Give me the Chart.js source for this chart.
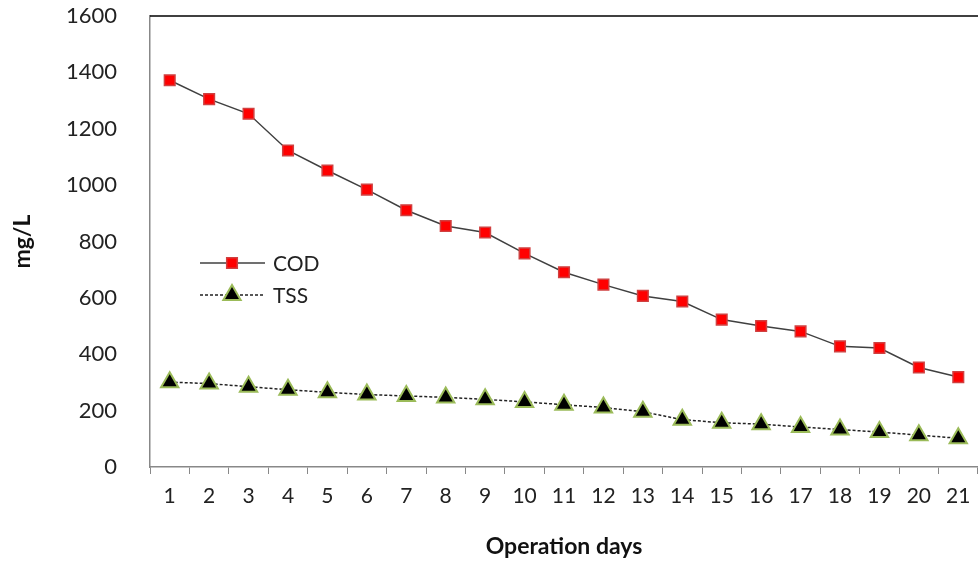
<!DOCTYPE html>
<html>
<head>
    <title>COD / TSS</title>
    <script src="https://cdn.jsdelivr.net/npm/chart.js"></script>
    <style>
        html, body { margin: 0; padding: 0; background: #fff; overflow: hidden; }
        #wrap { width: 978px; height: 562px; position: relative; }
        #myChart { display: block; }
    </style>
</head>
<body>
    <div id="wrap"><canvas id="myChart"></canvas></div>
    <script>
        // datos
        const days = ['1','2','3','4','5','6','7','8','9','10','11','12','13','14','15','16','17','18','19','20','21'];
        const codValues = [1372, 1305, 1253, 1123, 1052, 984, 911, 855, 832, 758, 691, 647, 607, 587, 523, 500, 481, 428, 422, 353, 319];
        const tssValues = [301, 296, 285, 274, 265, 257, 252, 247, 240, 231, 221, 211, 196, 168, 157, 152, 142, 133, 124, 113, 102];
        const yTicks = [0, 200, 400, 600, 800, 1000, 1200, 1400, 1600];

        const FONT = 'Lato, "DejaVu Sans", sans-serif';

        // leyenda dentro del área y borde superior
        const extras = {
            id: 'extras',
            afterDraw(chart) {
                const ctx = chart.ctx;
                const area = chart.chartArea;
                ctx.save();
                ctx.strokeStyle = '#000';
                ctx.lineWidth = 1.5;
                ctx.beginPath();
                ctx.moveTo(area.left, area.top);
                ctx.lineTo(area.right, area.top);
                ctx.stroke();

                const rows = [263, 295];
                chart.data.datasets.forEach((ds, i) => {
                    const y = rows[i];
                    ctx.strokeStyle = ds.borderColor;
                    ctx.lineWidth = ds.borderWidth;
                    ctx.setLineDash(ds.borderDash || []);
                    ctx.beginPath();
                    ctx.moveTo(200, y);
                    ctx.lineTo(265, y);
                    ctx.stroke();
                    ctx.setLineDash([]);
                    ctx.fillStyle = ds.pointBackgroundColor;
                    ctx.strokeStyle = ds.pointBorderColor;
                    ctx.lineWidth = ds.pointBorderWidth;
                    Chart.helpers.drawPoint(ctx, {pointStyle: ds.pointStyle, radius: ds.pointRadius, borderWidth: ds.pointBorderWidth}, 232, y);
                    ctx.fillStyle = '#222';
                    ctx.font = '21px ' + FONT;
                    ctx.textBaseline = 'middle';
                    ctx.fillText(ds.label, 273, y + 1);
                });
                ctx.restore();
            }
        };

        const ctx = document.getElementById('myChart').getContext('2d');
        const myChart = new Chart(ctx, {
            type: 'line',
            data: {
                labels: days,
                datasets: [{
                    label: 'COD',
                    data: codValues,
                    borderColor: '#404040',
                    borderWidth: 1.5,
                    pointStyle: 'rect',
                    pointRadius: 7.5,
                    pointBackgroundColor: '#ff0000',
                    pointBorderColor: '#d04040',
                    pointBorderWidth: 1.5,
                    tension: 0
                }, {
                    label: 'TSS',
                    data: tssValues,
                    borderColor: '#222',
                    borderWidth: 1.5,
                    borderDash: [3, 2],
                    pointStyle: 'triangle',
                    pointRadius: 10,
                    pointBackgroundColor: '#000000',
                    pointBorderColor: '#9bbb59',
                    pointBorderWidth: 2,
                    tension: 0
                }]
            },
            options: {
                responsive: true,
                maintainAspectRatio: false,
                animation: false,
                layout: { autoPadding: false, padding: { top: 16, right: 0, left: 0, bottom: 0 } },
                plugins: {
                    legend: { display: false },
                    tooltip: { enabled: false }
                },
                scales: {
                    x: {
                        offset: true,
                        grid: {
                            offset: true,
                            drawOnChartArea: false,
                            drawTicks: true,
                            tickLength: 7,
                            color: '#888'
                        },
                        border: { color: '#888', width: 1.5 },
                        ticks: {
                            color: '#222',
                            font: { family: FONT, size: 21 },
                            padding: 10,
                            maxRotation: 0,
                            autoSkip: false
                        },
                        title: {
                            display: true,
                            text: 'Operation days',
                            color: '#111',
                            font: { family: FONT, size: 23, weight: 'bold' },
                            padding: { top: 0, bottom: 2 }
                        },
                        afterFit(scale) {
                            scale.height = 95;
                            scale.paddingLeft = 0;
                            scale.paddingRight = 0;
                        }
                    },
                    y: {
                        min: 0,
                        max: 1600,
                        afterBuildTicks(scale) { scale.ticks = yTicks.map(v => ({ value: v })); },
                        grid: { display: false },
                        border: { color: '#888', width: 1.5 },
                        ticks: {
                            color: '#222',
                            font: { family: FONT, size: 22 },
                            padding: 25,
                            callback: v => String(v)
                        },
                        title: {
                            display: true,
                            text: 'mg/L',
                            color: '#111',
                            font: { family: FONT, size: 23, weight: 'bold' },
                            padding: { top: 9, bottom: 0 }
                        },
                        afterFit(scale) {
                            scale.width = 150;
                            scale.paddingTop = 0;
                            scale.paddingBottom = 0;
                        }
                    }
                }
            },
            plugins: [extras]
        });
    </script>
</body>
</html>
